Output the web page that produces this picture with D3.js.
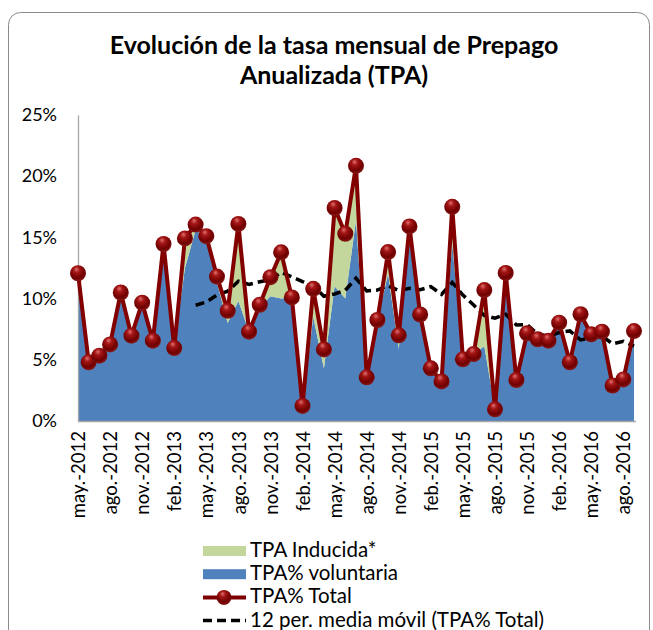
<!DOCTYPE html>
<html>
<head>
<meta charset="utf-8">
<script src="https://cdn.jsdelivr.net/npm/d3@7"></script>
<style>
  body { margin: 0; background: #fff; }
  svg { display: block; font-family: Lato, 'Open Sans', sans-serif; }
</style>
</head>
<body>
<svg id="chart" width="653" height="630"></svg>
<script>
// categories (monthly, may-2012 .. sep-2016)
var months = [
  'may.-2012', 'jun.-2012', 'jul.-2012', 'ago.-2012', 'sep.-2012', 'oct.-2012', 'nov.-2012', 'dic.-2012',
  'ene.-2013', 'feb.-2013', 'mar.-2013', 'abr.-2013', 'may.-2013', 'jun.-2013', 'jul.-2013', 'ago.-2013',
  'sep.-2013', 'oct.-2013', 'nov.-2013', 'dic.-2013', 'ene.-2014', 'feb.-2014', 'mar.-2014', 'abr.-2014',
  'may.-2014', 'jun.-2014', 'jul.-2014', 'ago.-2014', 'sep.-2014', 'oct.-2014', 'nov.-2014', 'dic.-2014',
  'ene.-2015', 'feb.-2015', 'mar.-2015', 'abr.-2015', 'may.-2015', 'jun.-2015', 'jul.-2015', 'ago.-2015',
  'sep.-2015', 'oct.-2015', 'nov.-2015', 'dic.-2015', 'ene.-2016', 'feb.-2016', 'mar.-2016', 'abr.-2016',
  'may.-2016', 'jun.-2016', 'jul.-2016', 'ago.-2016', 'sep.-2016'
];

// TPA% Total (red line with markers)
var tpaTotal = [
  12.07, 4.80, 5.34, 6.26, 10.50, 6.97, 9.67, 6.56, 14.46, 5.96, 14.92, 16.05, 15.10,
  11.80, 9.00, 16.10, 7.30, 9.50, 11.75, 13.78, 10.10, 1.23, 10.80, 5.85, 17.40, 15.30,
  20.85, 3.57, 8.25, 13.80, 7.00, 15.90, 8.70, 4.30, 3.23, 17.50, 5.04, 5.47, 10.70,
  0.95, 12.10, 3.35, 7.16, 6.67, 6.56, 8.03, 4.80, 8.72, 7.08, 7.30, 2.90, 3.40, 7.35
];

// TPA% voluntaria (blue area)
var tpaVoluntaria = [
  12.07, 4.80, 5.34, 6.26, 10.50, 6.97, 9.67, 6.56, 14.46, 5.96, 12.50, 15.60, 15.00,
  11.30, 8.00, 9.80, 7.30, 9.30, 10.20, 10.00, 10.10, 1.23, 8.50, 4.30, 11.00, 10.00,
  16.40, 3.57, 8.25, 12.00, 5.90, 15.90, 8.70, 4.30, 3.23, 14.50, 5.04, 5.47, 6.10,
  0.95, 12.10, 3.35, 7.16, 6.67, 6.56, 8.03, 4.80, 8.72, 7.08, 7.30, 2.90, 3.40, 7.35
];

// TPA Inducida* (green area, stacked on top of voluntaria)
var tpaInducida = [
  0, 0, 0, 0, 0, 0, 0, 0, 0, 0, 2.42, 0.45, 0.10,
  0.50, 1.00, 6.30, 0, 0.20, 1.55, 3.78, 0, 0, 2.30, 1.55, 6.40, 5.30,
  4.45, 0, 0, 1.80, 1.10, 0, 0, 0, 0, 3.00, 0, 0, 4.60,
  0, 0, 0, 0, 0, 0, 0, 0, 0, 0, 0, 0, 0, 0
];

// 12 per. media movil (TPA% Total) - dashed black
var mediaMovil = [
  null, null, null, null, null, null, null, null, null, null, null, 9.46, 9.72,
  10.30, 10.60, 11.42, 11.16, 11.37, 11.54, 12.14, 11.78, 11.39, 11.04, 10.19, 10.38, 10.68,
  11.66, 10.62, 10.70, 11.06, 10.66, 10.84, 10.72, 10.98, 10.35, 11.32, 10.29, 9.47, 8.62,
  8.40, 8.72, 7.85, 7.87, 7.10, 6.92, 7.23, 7.36, 6.63, 6.80, 6.95, 6.30, 6.51, 6.11
];

var yTicks = [0, 5, 10, 15, 20, 25];

var legendItems = [
  { label: 'TPA Inducida*', kind: 'area', color: '#c3d69b' },
  { label: 'TPA% voluntaria', kind: 'area', color: '#4f81bd' },
  { label: 'TPA% Total', kind: 'marker', color: '#7d0000' },
  { label: '12 per. media móvil (TPA% Total)', kind: 'dash', color: '#000' }
];

var svg = d3.select('#chart');

// outer chart border (rounded, runs off the bottom of the picture)
svg.append('rect')
  .attr('x', 8.5).attr('y', 12.5)
  .attr('width', 641).attr('height', 660)
  .attr('rx', 12)
  .attr('fill', 'none')
  .attr('stroke', '#8a8a8a')
  .attr('stroke-width', 1);

// title
var title = svg.append('text')
  .attr('x', 334)
  .attr('text-anchor', 'middle')
  .attr('font-weight', 'bold')
  .attr('font-size', 25)
  .attr('fill', '#000');
title.append('tspan').attr('x', 334).attr('y', 54).text('Evolución de la tasa mensual de Prepago');
title.append('tspan').attr('x', 334).attr('y', 84).text('Anualizada (TPA)');

// marker gradient (3d ball look)
var defs = svg.append('defs');
var grad = defs.append('radialGradient')
  .attr('id', 'ball')
  .attr('cx', '45%').attr('cy', '35%').attr('r', '65%')
  .attr('fx', '40%').attr('fy', '25%');
grad.append('stop').attr('offset', '0%').attr('stop-color', '#e07070');
grad.append('stop').attr('offset', '30%').attr('stop-color', '#a31515');
grad.append('stop').attr('offset', '75%').attr('stop-color', '#6e0000');
grad.append('stop').attr('offset', '100%').attr('stop-color', '#8a1a1a');

var x = d3.scalePoint()
  .domain(months)
  .range([78, 634]);

var y = d3.scaleLinear()
  .domain([0, 25])
  .range([421, 115]);

// stacked areas
var rows = months.map(function(m, i) {
  return { month: m, voluntaria: tpaVoluntaria[i], inducida: tpaInducida[i] };
});
var series = d3.stack().keys(['voluntaria', 'inducida'])(rows);
var areaColors = { voluntaria: '#4f81bd', inducida: '#c3d69b' };

var area = d3.area()
  .x(function(d) { return x(d.data.month); })
  .y0(function(d) { return y(d[0]); })
  .y1(function(d) { return y(d[1]); });

svg.append('g').selectAll('path')
  .data(series)
  .enter().append('path')
    .attr('d', area)
    .attr('fill', function(s) { return areaColors[s.key]; });

// axes
var yAxis = svg.append('g')
  .attr('transform', 'translate(78,0)')
  .call(d3.axisLeft(y).tickValues(yTicks).tickSize(0).tickPadding(21)
    .tickFormat(function(d) { return d + '%'; }));

var xAxis = svg.append('g')
  .attr('transform', 'translate(0,421)')
  .call(d3.axisBottom(x)
    .tickValues(months.filter(function(d, i) { return i % 3 === 0; }))
    .tickSize(0));

[yAxis, xAxis].forEach(function(ax) {
  ax.select('.domain').attr('stroke', '#a6a6a6').attr('stroke-width', 1.3);
  ax.selectAll('text')
    .attr('font-family', 'Lato, sans-serif')
    .attr('font-size', 18)
    .attr('fill', '#000');
});

xAxis.selectAll('text')
  .attr('transform', 'rotate(-90)')
  .attr('text-anchor', 'end')
  .attr('font-size', 18.5)
  .attr('x', -10)
  .attr('y', 0)
  .attr('dy', '0.36em');
xAxis.select('.domain').attr('d', 'M78,0.5H636');

// moving average (dashed)
var maLine = d3.line()
  .defined(function(d) { return d != null; })
  .x(function(d, i) { return x(months[i]); })
  .y(function(d) { return y(d); });

svg.append('path')
  .datum(mediaMovil)
  .attr('d', maLine)
  .attr('fill', 'none')
  .attr('stroke', '#000')
  .attr('stroke-width', 3.5)
  .attr('stroke-dasharray', '9,5');

// total line + markers
var totalLine = d3.line()
  .x(function(d, i) { return x(months[i]); })
  .y(function(d) { return y(d); });

svg.append('path')
  .datum(tpaTotal)
  .attr('d', totalLine)
  .attr('fill', 'none')
  .attr('stroke', '#820000')
  .attr('stroke-width', 4)
  .attr('stroke-linejoin', 'round');

svg.append('g').selectAll('circle')
  .data(tpaTotal)
  .enter().append('circle')
    .attr('cx', function(d, i) { return x(months[i]); })
    .attr('cy', function(d) { return y(d); })
    .attr('r', 8)
    .attr('fill', 'url(#ball)');

// legend
var legend = svg.append('g').attr('transform', 'translate(203,551)');
var item = legend.selectAll('g')
  .data(legendItems)
  .enter().append('g')
    .attr('transform', function(d, i) { return 'translate(0,' + (i * 23.2) + ')'; });

item.filter(function(d) { return d.kind === 'area'; })
  .append('rect')
    .attr('x', 0).attr('y', -5)
    .attr('width', 43).attr('height', 10)
    .attr('fill', function(d) { return d.color; });

var mk = item.filter(function(d) { return d.kind === 'marker'; });
mk.append('line')
  .attr('x1', 0).attr('x2', 43)
  .attr('stroke', function(d) { return d.color; })
  .attr('stroke-width', 4);
mk.append('circle')
  .attr('cx', 21).attr('r', 7.5)
  .attr('fill', 'url(#ball)');

item.filter(function(d) { return d.kind === 'dash'; })
  .append('line')
    .attr('x1', 0).attr('x2', 43)
    .attr('stroke', '#000')
    .attr('stroke-width', 3.5)
    .attr('stroke-dasharray', '9,5');

item.append('text')
  .attr('x', 47)
  .attr('y', 6)
  .attr('font-size', 20.5)
  .attr('fill', '#000')
  .text(function(d) { return d.label; });
</script>
</body>
</html>
